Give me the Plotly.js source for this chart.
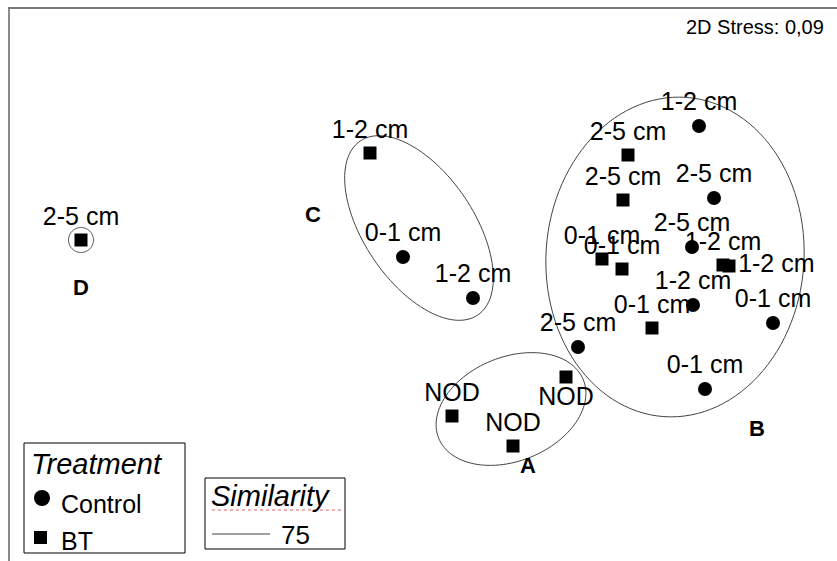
<!DOCTYPE html>
<html>
<head>
<meta charset="utf-8">
<script src="https://cdn.plot.ly/plotly-3.0.1.min.js"></script>
<style>html,body{margin:0;padding:0;background:#fff;}#chart{width:837px;height:561px;}</style>
</head>
<body>
<div id="chart"></div>
<script>
// ---- nMDS ordination scores ----
const controlX = [-0.17, 0.53, 2.79, 2.94, 2.72, 2.73, 3.53, 1.58, 2.85];
const controlY = [0.23, -0.18, 1.54, 0.82, 0.33, -0.25, -0.43, -0.67, -1.09];
const controlLabels = ['0-1 cm','1-2 cm','1-2 cm','2-5 cm','2-5 cm','1-2 cm','0-1 cm','2-5 cm','0-1 cm'];

const btX = [-3.39, -0.50, 2.08, 2.03, 1.82, 2.02, 3.03, 3.09, 2.32, 1.46, 0.32, 0.93];
const btY = [0.40, 1.27, 1.25, 0.80, 0.21, 0.11, 0.15, 0.14, -0.48, -0.97, -1.36, -1.66];
const btLabels = ['2-5 cm','1-2 cm','2-5 cm','2-5 cm','0-1 cm','0-1 cm','1-2 cm','1-2 cm','0-1 cm','NOD','NOD','NOD'];

// ---- 75% similarity clusters (ellipse contours) ----
const groupNames = ['A','B','C','D'];
const groupCX = [0.91, 2.55, -0.01, -3.39];
const groupCY = [-1.29, 0.23, 0.52, 0.40];
const groupRA = [0.78, 1.29, 1.05, 0.125];
const groupRB = [0.52, 1.60, 0.55, 0.125];
const groupAngle = [22, -4, -56, 0];
const groupLabelX = [1.08, 3.37, -1.07, -3.39];
const groupLabelY = [-1.85, -1.48, 0.66, -0.07];

const stressText = '2D Stress: 0,09';
const legendTitle = 'Treatment';
const treatmentNames = ['Control', 'BT'];
const similarityTitle = 'Similarity';
const similarityLevel = '75';

// ---- styling ----
const FONT = 'Liberation Sans, Arial, sans-serif';
const btPos = btLabels.map((l, i) => i === 7 ? 'middle right' : (i === 9 ? 'bottom center' : 'top center'));

function ellipsePath(cx, cy, a, b, angDeg) {
  const t = angDeg * Math.PI / 180, n = 120;
  let p = '';
  for (let i = 0; i <= n; i++) {
    const u = 2 * Math.PI * i / n;
    const ex = a * Math.cos(u), ey = b * Math.sin(u);
    const x = cx + ex * Math.cos(t) - ey * Math.sin(t);
    const y = cy + ex * Math.sin(t) + ey * Math.cos(t);
    p += (i === 0 ? 'M' : 'L') + x.toFixed(4) + ',' + y.toFixed(4);
  }
  return p + 'Z';
}

// pixel -> paper helpers for the hand-drawn legend boxes
const L = 10, T = 9, W = 827, H = 552;
const px = x => (x - L) / W;
const py = y => 1 - (y - T) / H;

const traces = [
  {
    x: controlX, y: controlY, text: controlLabels, name: treatmentNames[0],
    mode: 'markers+text', type: 'scatter', textposition: 'top center',
    marker: {symbol: 'circle', size: 14, color: '#000'},
    textfont: {family: FONT, size: 25, color: '#000'},
    cliponaxis: false, hoverinfo: 'text'
  },
  {
    x: btX, y: btY, text: btLabels, name: treatmentNames[1],
    mode: 'markers+text', type: 'scatter', textposition: btPos,
    marker: {symbol: 'square', size: 13, color: '#000'},
    textfont: {family: FONT, size: 25, color: '#000'},
    cliponaxis: false, hoverinfo: 'text'
  }
];

const shapes = groupNames.map((g, i) => ({
  type: 'path', xref: 'x', yref: 'y',
  path: ellipsePath(groupCX[i], groupCY[i], groupRA[i], groupRB[i], groupAngle[i]),
  line: {color: '#444', width: 1}, layer: 'below'
}));

// Treatment legend box
shapes.push({type: 'rect', xref: 'paper', yref: 'paper', x0: px(24), x1: px(185), y0: py(443), y1: py(553), line: {color: '#000', width: 1}});
shapes.push({type: 'circle', xref: 'paper', yref: 'paper', x0: px(34), x1: px(50), y0: py(490), y1: py(506), fillcolor: '#000', line: {color: '#000', width: 0}});
shapes.push({type: 'rect', xref: 'paper', yref: 'paper', x0: px(34), x1: px(47), y0: py(531), y1: py(544), fillcolor: '#000', line: {color: '#000', width: 0}});
// Similarity legend box
shapes.push({type: 'rect', xref: 'paper', yref: 'paper', x0: px(205), x1: px(345), y0: py(478), y1: py(549), line: {color: '#000', width: 1}});
shapes.push({type: 'line', xref: 'paper', yref: 'paper', x0: px(212), x1: px(270), y0: py(534), y1: py(534), line: {color: '#444', width: 1}});
shapes.push({type: 'line', xref: 'paper', yref: 'paper', x0: px(212), x1: px(343), y0: py(510), y1: py(510), line: {color: '#e06060', width: 1, dash: 'dot'}});

const annotations = groupNames.map((g, i) => ({
  x: groupLabelX[i], y: groupLabelY[i], xref: 'x', yref: 'y', text: '<b>' + g + '</b>',
  showarrow: false, font: {family: FONT, size: 22, color: '#000'}
}));
annotations.push({x: px(826), y: py(27), xref: 'paper', yref: 'paper', xanchor: 'right', yanchor: 'middle', text: stressText, showarrow: false, font: {family: FONT, size: 20, color: '#000'}});
annotations.push({x: px(29), y: py(464), xref: 'paper', yref: 'paper', xanchor: 'left', yanchor: 'middle', text: '<i>' + legendTitle + '</i>', showarrow: false, font: {family: FONT, size: 29, color: '#000'}});
annotations.push({x: px(59), y: py(504), xref: 'paper', yref: 'paper', xanchor: 'left', yanchor: 'middle', text: treatmentNames[0], showarrow: false, font: {family: FONT, size: 25, color: '#000'}});
annotations.push({x: px(59), y: py(541), xref: 'paper', yref: 'paper', xanchor: 'left', yanchor: 'middle', text: treatmentNames[1], showarrow: false, font: {family: FONT, size: 25, color: '#000'}});
annotations.push({x: px(209), y: py(496), xref: 'paper', yref: 'paper', xanchor: 'left', yanchor: 'middle', text: '<i>' + similarityTitle + '</i>', showarrow: false, font: {family: FONT, size: 29, color: '#000'}});
annotations.push({x: px(279), y: py(535), xref: 'paper', yref: 'paper', xanchor: 'left', yanchor: 'middle', text: similarityLevel, showarrow: false, font: {family: FONT, size: 26, color: '#000'}});

const layout = {
  width: 837, height: 561,
  margin: {l: L, r: 0, t: T, b: 0},
  paper_bgcolor: '#fff', plot_bgcolor: '#fff',
  showlegend: false,
  xaxis: {range: [-4.10, 4.17], side: 'top', showline: true, linecolor: '#7a7a7a', linewidth: 2,
          showgrid: false, zeroline: false, showticklabels: false, ticks: ''},
  yaxis: {range: [-2.81, 2.71], showline: true, linecolor: '#8a8a8a', linewidth: 2,
          showgrid: false, zeroline: false, showticklabels: false, ticks: ''},
  shapes: shapes,
  annotations: annotations
};

Plotly.newPlot('chart', traces, layout, {displayModeBar: false, staticPlot: true});
</script>
</body>
</html>
